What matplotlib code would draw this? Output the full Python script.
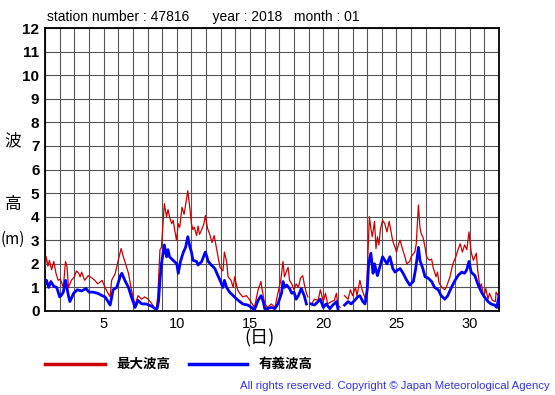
import numpy as np
import matplotlib
matplotlib.use("Agg")
import matplotlib.pyplot as plt

plt.rcParams['font.family'] = ['Liberation Sans', 'Noto Sans CJK JP', 'DejaVu Sans']

nan = float('nan')

# 最大波高 (max wave height): day, metres
red_t = [1.0, 1.08, 1.2, 1.3, 1.45, 1.6, 1.75, 1.9, 2.05, 2.25, 2.4, 2.5, 2.6, 2.8, 3.0, 3.15, 3.3, 3.4, 3.5, 3.7,
         3.95, 4.2, 4.4, 4.6, 4.9, 5.1, 5.3, 5.45, 5.55, 5.8, 6.0, 6.2, 6.35, 6.55, 6.7, 6.9, 7.15, 7.35, 7.6, 7.8,
         8.05, 8.3, 8.5, 8.6, 8.7, 8.85, 8.95, 9.07, 9.15, 9.3, 9.4, 9.5, 9.65, 9.75, 9.85, 9.98, 10.1, 10.2, 10.35, 10.5,
         10.65, 10.75, 10.9, 11.0, 11.1, 11.2, 11.35, 11.45, 11.55, 11.7, 11.85, 11.95, 12.1, 12.25, 12.4, 12.55, 12.7, 12.95, 13.15, 13.25,
         13.4, 13.5, 13.7, 13.85, 13.95, 14.15, 14.3, 14.5, 14.75, 15.0, 15.2, 15.3, 15.55, 15.75, 15.8, 16.0, 16.2, 16.45, 16.7, 16.9,
         17.1, 17.25, 17.35, 17.5, 17.6, 17.7, 17.85, 18.0, 18.15, 18.3, 18.45, 18.6, 18.7, 18.85, 18.95, 19.05, 19.2, 19.4, 19.65, 19.8,
         20.0, 20.15, 20.3, 20.55, 20.75, 20.9, 21.0, 21.15, 21.3, 21.45, 21.7, 21.85, 22.0, 22.2, 22.3, 22.5, 22.65, 22.8, 22.95, 23.05,
         23.15, 23.25, 23.35, 23.5, 23.6, 23.7, 23.8, 23.9, 24.05, 24.2, 24.35, 24.5, 24.65, 24.75, 24.9, 25.0, 25.15, 25.25, 25.4, 25.55,
         25.7, 25.9, 26.0, 26.25, 26.35, 26.5, 26.6, 26.7, 26.8, 26.95, 27.05, 27.25, 27.4, 27.5, 27.7, 27.8, 27.9, 28.1, 28.3, 28.4,
         28.65, 28.85, 29.05, 29.2, 29.35, 29.5, 29.65, 29.8, 29.95, 30.1, 30.25, 30.45, 30.55, 30.7, 30.8, 30.95, 31.1, 31.25, 31.35, 31.55,
         31.75, 31.8, 31.95]
red_v = [1.8, 2.3, 1.9, 2.15, 1.75, 2.1, 1.6, 1.3, 1.35, 1.0, 2.1, 1.9, 1.0, 1.3, 1.45, 1.7, 1.6, 1.45, 1.65, 1.3,
         1.5, 1.4, 1.3, 1.15, 1.3, 1.0, 0.75, 0.6, 1.3, 1.6, 2.15, 2.65, 2.3, 1.9, 1.6, 0.9, 0.25, 0.65, 0.5, 0.6,
         0.5, 0.3, 0.1, 0.1, 0.6, 2.6, 2.7, 3.85, 4.55, 4.0, 4.3, 4.0, 3.7, 3.85, 3.45, 3.0, 3.7, 3.55, 4.4, 4.1,
         4.7, 5.1, 4.3, 3.7, 3.45, 3.55, 3.2, 3.6, 3.25, 3.45, 3.7, 4.05, 3.5, 3.25, 2.9, 3.2, 2.7, 1.85, 1.7, 2.5,
         2.1, 1.45, 1.3, 1.0, 1.45, 0.9, 0.75, 0.6, 0.65, 0.45, 0.25, 0.15, 0.9, 1.25, 1.0, 0.3, 0.15, 0.3, 0.15, 0.75,
         1.3, 2.1, 1.45, 1.7, 1.85, 1.3, 1.15, 0.9, 1.15, 1.0, 1.4, 1.5, 1.15, 0.75, 0.6, nan, 0.3, 0.5, 0.45, 0.9,
         0.4, 0.75, 0.3, 0.4, 0.45, 0.75, 0.25, 0.15, nan, 0.65, 0.5, 0.9, 0.65, 1.0, 0.65, 1.3, 0.9, 0.65, 0.4, 2.45,
         4.0, 3.5, 3.15, 3.8, 2.65, 3.15, 2.8, 3.45, 3.85, 3.7, 3.35, 3.8, 3.3, 2.95, 2.7, 2.5, 2.85, 3.0, 2.65, 2.35,
         2.0, 2.1, 2.3, 2.5, 2.85, 4.5, 3.55, 3.25, 3.15, 2.7, 2.3, 2.15, 2.2, 1.85, 1.45, 1.65, 1.2, 1.0, 0.9, 1.0,
         1.45, 2.0, 2.3, 2.6, 2.85, 2.5, 2.8, 2.6, 3.35, 2.5, 2.15, 2.45, 1.7, 1.0, 1.15, 0.6, 0.95, 0.5, 0.75, 0.45,
         0.4, 0.8, 0.65]

# 有義波高 (significant wave height): day, metres
blue_t = [1.0, 1.1, 1.25, 1.4, 1.6, 1.8, 2.0, 2.1, 2.25, 2.4, 2.6, 2.7, 2.95, 3.2, 3.5, 3.8, 4.0, 4.3, 4.6, 4.9,
          5.1, 5.3, 5.45, 5.65, 5.9, 6.15, 6.25, 6.45, 6.7, 6.9, 7.15, 7.35, 7.6, 7.9, 8.3, 8.5, 8.65, 8.75, 8.85, 8.95,
          9.15, 9.3, 9.4, 9.5, 9.75, 10.0, 10.1, 10.25, 10.45, 10.6, 10.75, 10.9, 11.0, 11.1, 11.35, 11.45, 11.7, 11.85, 11.95, 12.15,
          12.35, 12.6, 12.7, 12.95, 13.15, 13.25, 13.4, 13.6, 13.85, 14.1, 14.3, 14.5, 14.85, 15.1, 15.3, 15.55, 15.75, 15.9, 16.0, 16.2,
          16.45, 16.7, 16.9, 17.15, 17.25, 17.35, 17.5, 17.7, 17.85, 18.0, 18.15, 18.3, 18.5, 18.6, 18.7, 18.85, 19.0, 19.15, 19.4, 19.65,
          19.8, 20.0, 20.2, 20.45, 20.65, 20.9, 21.0, 21.2, 21.45, 21.7, 21.9, 22.15, 22.35, 22.5, 22.7, 22.85, 23.0, 23.1, 23.25, 23.4,
          23.5, 23.7, 23.85, 24.05, 24.2, 24.35, 24.55, 24.75, 24.9, 25.1, 25.25, 25.45, 25.7, 25.9, 26.15, 26.3, 26.5, 26.6, 26.8, 26.95,
          27.15, 27.4, 27.6, 27.85, 28.05, 28.3, 28.5, 28.75, 29.0, 29.2, 29.45, 29.65, 29.8, 29.95, 30.1, 30.35, 30.55, 30.8, 31.0, 31.25,
          31.45, 31.7, 31.85, 32.0]
blue_v = [1.15, 1.3, 1.0, 1.25, 1.05, 1.0, 0.6, 0.65, 0.8, 1.3, 0.65, 0.4, 0.75, 0.9, 0.85, 0.95, 0.8, 0.8, 0.75, 0.65,
          0.6, 0.4, 0.25, 0.9, 1.0, 1.5, 1.6, 1.3, 1.0, 0.6, 0.15, 0.45, 0.3, 0.3, 0.2, 0.1, 0.1, 0.4, 1.3, 2.0,
          2.8, 2.3, 2.6, 2.3, 2.15, 2.0, 1.6, 2.1, 2.5, 2.7, 3.15, 2.7, 2.5, 2.15, 2.1, 1.95, 2.1, 2.35, 2.5, 2.1,
          1.95, 1.8, 1.65, 1.3, 1.0, 1.3, 1.0, 0.8, 0.65, 0.5, 0.4, 0.3, 0.25, 0.15, 0.05, 0.45, 0.65, 0.4, 0.1, 0.1,
          0.15, 0.1, 0.3, 0.75, 1.25, 1.0, 1.1, 0.95, 0.75, 0.8, 0.5, 0.65, 0.95, 0.8, 0.65, 0.3, nan, 0.3, 0.25, 0.4,
          0.5, 0.15, 0.3, 0.1, 0.25, 0.4, 0.1, nan, 0.25, 0.4, 0.3, 0.45, 0.6, 0.65, 0.4, 0.3, 0.9, 2.0, 2.45, 1.6,
          2.0, 1.5, 1.85, 2.3, 2.15, 2.0, 2.3, 1.8, 1.65, 1.75, 1.8, 1.6, 1.3, 1.1, 1.25, 1.75, 2.7, 2.15, 1.8, 1.45,
          1.4, 1.25, 1.0, 0.9, 0.65, 0.5, 0.65, 1.0, 1.3, 1.5, 1.65, 1.6, 1.75, 2.1, 1.65, 1.5, 1.15, 0.8, 0.6, 0.4,
          0.3, 0.25, 0.15, 0.65]

y_ticks = list(range(0, 13))
x_ticks = [5, 10, 15, 20, 25, 30]
title = "station number : 47816      year : 2018   month : 01"
legend_labels = ["最大波高", "有義波高"]

W, H = 555, 395
fig = plt.figure(figsize=(W / 100, H / 100), dpi=100)
ax = fig.add_axes([45 / W, 1 - 311 / H, (499 - 45) / W, (311 - 28) / H])

ax.set_xlim(1, 32)
ax.set_ylim(0, 12)
ax.set_xticks(np.arange(1, 33), minor=True)
ax.set_xticks(x_ticks)
ax.set_yticks(y_ticks)
ax.grid(True, which='both', color='#555555', linewidth=0.8)
ax.tick_params(which='both', length=0)
ax.tick_params(axis='y', pad=4, labelsize=11)
ax.tick_params(axis='x', pad=4, labelsize=10.5)
for lab in ax.get_yticklabels():
    lab.set_fontweight('bold')
for s in ax.spines.values():
    s.set_linewidth(1.3)
    s.set_color('black')

ax.plot(red_t, red_v, color='#cc0000', linewidth=0.9, zorder=3)
ax.plot(blue_t, blue_v, color='#0000ff', linewidth=2.0, zorder=4)

fig.text(47 / W, 1 - 17 / H, title, fontsize=10, va='center', ha='left')

jp = ['Noto Sans CJK JP', 'DejaVu Sans']
fig.text(13 / W, 1 - 141 / H, "波", fontsize=12, ha='center', va='center', family=jp)
fig.text(13 / W, 1 - 205 / H, "高", fontsize=12, ha='center', va='center', family=jp)
fig.text(13 / W, 1 - 239 / H, "(m)", fontsize=11, ha='center', va='center', family=jp)
fig.text(260 / W, 1 - 338 / H, "(日)", fontsize=13, ha='center', va='center', family=jp)

# legend
fig.add_artist(plt.Line2D([45 / W, 105 / W], [1 - 364 / H, 1 - 364 / H], color='#cc0000', linewidth=2.5))
fig.text(116 / W, 1 - 364 / H, legend_labels[0], fontsize=9.7, fontweight='bold', ha='left', va='center', family=jp)
fig.add_artist(plt.Line2D([189 / W, 247 / W], [1 - 364 / H, 1 - 364 / H], color='#0000ff', linewidth=2.5))
fig.text(259 / W, 1 - 364 / H, legend_labels[1], fontsize=9.7, fontweight='bold', ha='left', va='center', family=jp)

fig.text(550 / W, 1 - 386 / H, "All rights reserved. Copyright © Japan Meteorological Agency",
         fontsize=8.2, color='#3333ee', ha='right', va='center')

fig.savefig("out.png", dpi=100)
